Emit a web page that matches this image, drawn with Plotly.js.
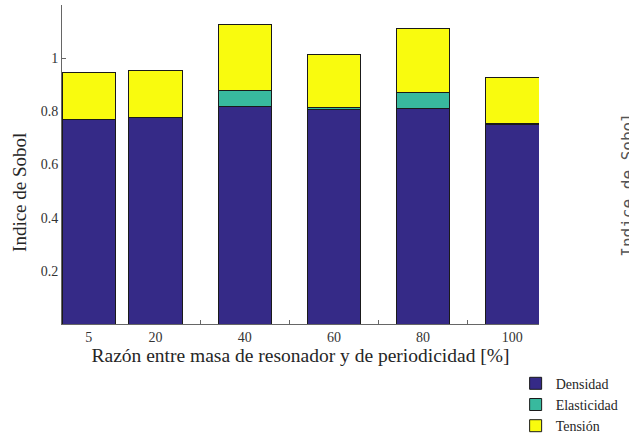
<!DOCTYPE html>
<html>
<head>
<meta charset="utf-8">
<script src="https://cdn.plot.ly/plotly-3.0.1.min.js"></script>
<style>html,body{margin:0;padding:0;background:#fff;}#chart{width:629px;height:434px;}</style>
</head>
<body>
<div id="chart"></div>
<script>
// Data
const ratios = [5, 20, 40, 60, 80, 100];
const tickLabels = ['5', '20', '40', '60', '80', '100'];
const densidad = [0.769, 0.775, 0.820, 0.808, 0.812, 0.752];
const elasticidad = [0.002, 0.002, 0.057, 0.006, 0.057, 0.002];
const tension = [0.174, 0.175, 0.248, 0.199, 0.243, 0.172];
const yTicks = [0.2, 0.4, 0.6, 0.8, 1, 1.2];
const yTickLabels = ['0.2', '0.4', '0.6', '0.8', '1', ''];

const FONT = '"Liberation Serif", serif';
const edge = {color: '#1a1a1a', width: 1};
const traces = [
  {name: 'Densidad', y: densidad, color: '#352a87'},
  {name: 'Elasticidad', y: elasticidad, color: '#38b99e'},
  {name: 'Tensión', y: tension, color: '#f9fb0e'}
].map(s => ({
  type: 'bar', x: ratios, y: s.y, name: s.name, width: 12,
  marker: {color: s.color, line: edge}
}));

const layout = {
  width: 629, height: 434,
  margin: {l: 62, r: 90, t: 5, b: 110, autoexpand: false},
  paper_bgcolor: '#fff', plot_bgcolor: '#fff',
  barmode: 'stack',
  font: {family: FONT, color: '#262626', size: 14},
  showlegend: true,
  legend: {
    x: 0.951, y: -0.137, xanchor: 'left', yanchor: 'top',
    font: {family: FONT, size: 14, color: '#262626'},
    traceorder: 'normal', tracegroupgap: 0, itemwidth: 30,
    bgcolor: 'rgba(0,0,0,0)'
  },
  xaxis: {
    range: [-1, 106], showgrid: false, zeroline: false,
    showline: true, linecolor: '#666', linewidth: 1,
    tickmode: 'array', tickvals: ratios, ticktext: tickLabels,
    ticks: '', tickfont: {family: FONT, size: 14, color: '#333'},
    minor: {tickmode: 'array', tickvals: [30, 50, 70, 90], ticks: 'inside', ticklen: 4, tickcolor: '#666', showgrid: false},
    layer: 'below traces',
    title: {text: 'Razón entre masa de resonador y de periodicidad [%]', font: {family: FONT, size: 19.5, color: '#262626'}, standoff: 0}
  },
  yaxis: {
    range: [0, 1.2], showgrid: false, zeroline: false,
    showline: true, linecolor: '#666', linewidth: 1,
    tickmode: 'array', tickvals: yTicks, ticktext: yTickLabels,
    ticks: 'inside', ticklen: 4, tickcolor: '#666',
    tickfont: {family: FONT, size: 14, color: '#333'},
    layer: 'below traces'
  },
  annotations: [
    {text: 'Indice de Sobol', xref: 'paper', yref: 'paper', x: -0.088, y: 0.411,
     textangle: -90, showarrow: false, xanchor: 'center', yanchor: 'middle',
     font: {family: FONT, size: 19, color: '#262626'}},
    {text: 'Indice de Sobol', xref: 'paper', yref: 'paper', x: 1.186, y: 0.439,
     textangle: -90, showarrow: false, xanchor: 'center', yanchor: 'middle',
     font: {family: '"DejaVu Sans Mono", monospace', size: 16, color: '#555'}}
  ]
};

Plotly.newPlot('chart', traces, layout, {displayModeBar: false, staticPlot: true});
</script>
</body>
</html>
